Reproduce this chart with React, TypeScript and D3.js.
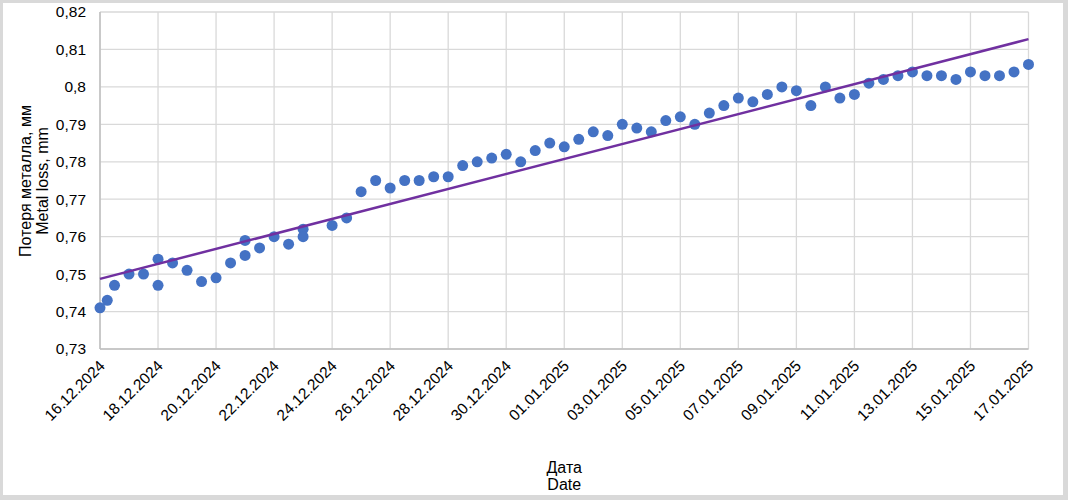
import React from 'react';
import * as d3 from 'd3';

// measurement times and metal loss, mm
const times = [
    '2024-12-16T00:00', '2024-12-16T06:00', '2024-12-16T12:00', '2024-12-17T00:00', '2024-12-17T12:00',
    '2024-12-18T00:00', '2024-12-18T00:00', '2024-12-18T12:00', '2024-12-19T00:00', '2024-12-19T12:00',
    '2024-12-20T00:00', '2024-12-20T12:00', '2024-12-21T00:00', '2024-12-21T00:00', '2024-12-21T12:00',
    '2024-12-22T00:00', '2024-12-22T12:00', '2024-12-23T00:00', '2024-12-23T00:00', '2024-12-24T00:00',
    '2024-12-24T12:00', '2024-12-25T00:00', '2024-12-25T12:00', '2024-12-26T00:00', '2024-12-26T12:00',
    '2024-12-27T00:00', '2024-12-27T12:00', '2024-12-28T00:00', '2024-12-28T12:00', '2024-12-29T00:00',
    '2024-12-29T12:00', '2024-12-30T00:00', '2024-12-30T12:00', '2024-12-31T00:00', '2024-12-31T12:00',
    '2025-01-01T00:00', '2025-01-01T12:00', '2025-01-02T00:00', '2025-01-02T12:00', '2025-01-03T00:00',
    '2025-01-03T12:00', '2025-01-04T00:00', '2025-01-04T12:00', '2025-01-05T00:00', '2025-01-05T12:00',
    '2025-01-06T00:00', '2025-01-06T12:00', '2025-01-07T00:00', '2025-01-07T12:00', '2025-01-08T00:00',
    '2025-01-08T12:00', '2025-01-09T00:00', '2025-01-09T12:00', '2025-01-10T00:00', '2025-01-10T12:00',
    '2025-01-11T00:00', '2025-01-11T12:00', '2025-01-12T00:00', '2025-01-12T12:00', '2025-01-13T00:00',
    '2025-01-13T12:00', '2025-01-14T00:00', '2025-01-14T12:00', '2025-01-15T00:00', '2025-01-15T12:00',
    '2025-01-16T00:00', '2025-01-16T12:00', '2025-01-17T00:00'
];

const loss = [
    0.741, 0.743, 0.747, 0.750, 0.750,
    0.754, 0.747, 0.753, 0.751, 0.748,
    0.749, 0.753, 0.759, 0.755, 0.757,
    0.760, 0.758, 0.762, 0.760, 0.763,
    0.765, 0.772, 0.775, 0.773, 0.775,
    0.775, 0.776, 0.776, 0.779, 0.780,
    0.781, 0.782, 0.780, 0.783, 0.785,
    0.784, 0.786, 0.788, 0.787, 0.790,
    0.789, 0.788, 0.791, 0.792, 0.790,
    0.793, 0.795, 0.797, 0.796, 0.798,
    0.800, 0.799, 0.795, 0.800, 0.797,
    0.798, 0.801, 0.802, 0.803, 0.804,
    0.803, 0.803, 0.802, 0.804, 0.803,
    0.803, 0.804, 0.806
];

const xStart = '2024-12-16T00:00';
const xEnd = '2025-01-17T00:00';
const yTicks = [0.73, 0.74, 0.75, 0.76, 0.77, 0.78, 0.79, 0.8, 0.81, 0.82];

const yTitle = ['Потеря металла, мм', 'Metal loss, mm'];
const xTitle = ['Дата', 'Date'];

const width = 1068;
const height = 500;
const marginLeft = 100;
const marginRight = 39.5;
const marginTop = 12;
const marginBottom = 151;
const font = '"Liberation Sans", Arial, sans-serif';

const App: React.FC = () => {
    const points = times.map((t, i) => ({ date: new Date(t), value: loss[i] }));
    const start = new Date(xStart);
    const end = new Date(xEnd);

    const x = d3.scaleTime().domain([start, end])
        .range([marginLeft, width - marginRight]);
    const y = d3.scaleLinear().domain([0.73, 0.82])
        .range([height - marginBottom, marginTop]);

    const xTicks = d3.timeDay.range(start, d3.timeDay.offset(end, 1), 2);
    const fmtDate = d3.timeFormat('%d.%m.%Y');
    const fmtVal = (v: number) => d3.format('.2~f')(v).replace('.', ',');

    // linear least-squares trend, like Excel's trendline
    const dayMs = 864e5;
    const xs = points.map(p => (+p.date - +start) / dayMs);
    const ys = points.map(p => p.value);
    const mx = d3.mean(xs) as number;
    const my = d3.mean(ys) as number;
    const slope = d3.sum(xs, (v, i) => (v - mx) * (ys[i] - my)) / d3.sum(xs, v => (v - mx) ** 2);
    const icpt = my - slope * mx;
    const trendDays = [0, (+end - +start) / dayMs];
    const trend = d3.line<number>()
        .x(d => x(new Date(+start + d * dayMs)))
        .y(d => y(icpt + slope * d));

    const x0 = marginLeft;
    const x1 = width - marginRight;
    const y0 = height - marginBottom;
    const y1 = marginTop;

    return (
        <div>
            <style>{'body{margin:0}'}</style>
            <svg width={width} height={height} style={{ display: 'block', fontFamily: font }}>
                <rect x={0} y={0} width={width} height={height} fill="#d9d9d9" />
                <rect x={3} y={3} width={1060} height={492} fill="#ffffff" />

                <g stroke="#d9d9d9" strokeWidth="1.3">
                    {yTicks.map(t => (<line key={t} x1={x0} x2={x1} y1={y(t)} y2={y(t)} />))}
                    {xTicks.map(t => (<line key={+t} x1={x(t)} x2={x(t)} y1={y0} y2={y1} />))}
                </g>
                <line x1={x0} x2={x1} y1={y0} y2={y0} stroke="#bfbfbf" strokeWidth="1.5" />
                <line x1={x0} x2={x0} y1={y0} y2={y1} stroke="#bfbfbf" strokeWidth="1.5" />

                <g fontSize="15.5" fill="#000" textAnchor="end">
                    {yTicks.map(t => (
                        <text key={t} x={x0 - 14} y={y(t)} dy="0.35em">{fmtVal(t)}</text>
                    ))}
                    {xTicks.map(t => (
                        <text key={+t} transform={`translate(${x(t) + 2},${y0 + 14}) rotate(-45)`} dy="0.35em">
                            {fmtDate(t)}
                        </text>
                    ))}
                </g>

                <g fill="#4472c4">
                    {points.map((p, i) => (<circle key={i} cx={x(p.date)} cy={y(p.value)} r="5.5" />))}
                </g>

                <path d={trend(trendDays) || ''} fill="none" stroke="#7030a0" strokeWidth="2.5" />

                <g fontSize="16" fill="#000" textAnchor="middle">
                    <text x={(x0 + x1) / 2} y={473}>{xTitle[0]}</text>
                    <text x={(x0 + x1) / 2} y={490}>{xTitle[1]}</text>
                    <text transform="translate(31,181) rotate(-90)">{yTitle[0]}</text>
                    <text transform="translate(48,181) rotate(-90)">{yTitle[1]}</text>
                </g>
            </svg>
        </div>
    );
};

export default App;
